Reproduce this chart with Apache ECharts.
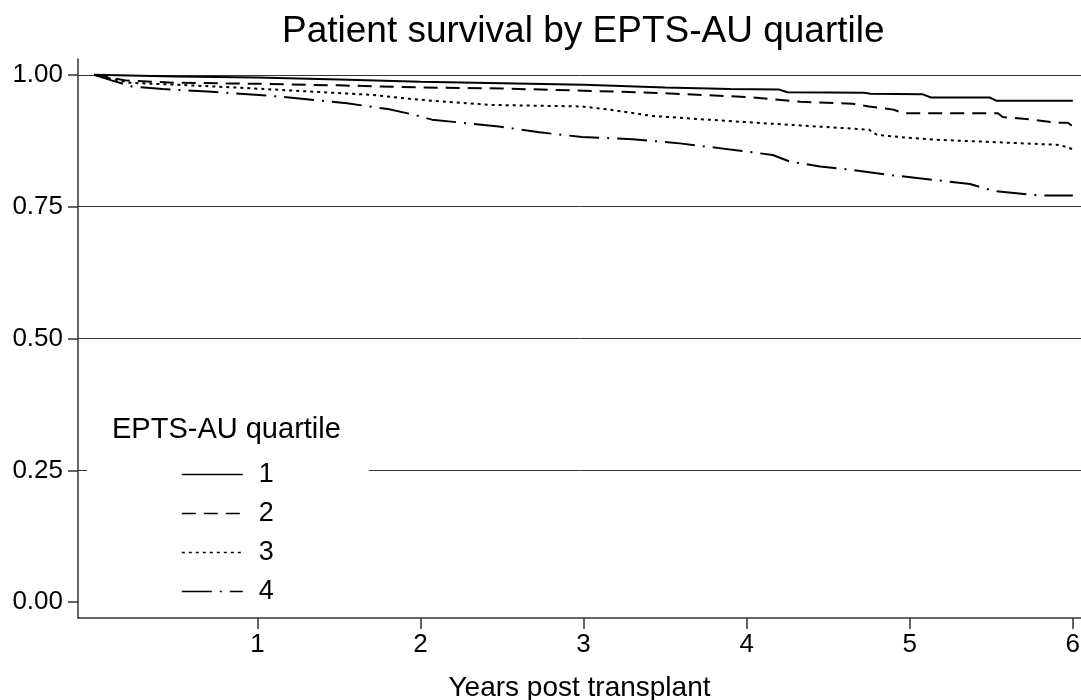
<!DOCTYPE html>
<html>
<head>
<meta charset="utf-8">
<title>Patient survival by EPTS-AU quartile</title>
<script src="https://cdn.jsdelivr.net/npm/echarts@6/dist/echarts.min.js"></script>
<style>
  html, body { margin: 0; padding: 0; background: #fff; }
  #chart { width: 1081px; height: 700px; }
</style>
</head>
<body>
<div id="chart"></div>
<script>
// Kaplan-Meier estimates: [years, survival]
const q1 = [[0, 1], [0.5, 0.997], [1, 0.995], [1.5, 0.991], [2, 0.987], [2.5, 0.984], [3, 0.981], [3.5, 0.976], [3.9, 0.973], [4.2, 0.972], [4.25, 0.967], [4.72, 0.966], [4.76, 0.964], [5.08, 0.963], [5.13, 0.957], [5.49, 0.957], [5.53, 0.951], [6.0, 0.951]]
const q2 = [[0, 1], [0.2, 0.989], [0.5, 0.985], [1, 0.983], [1.5, 0.98], [2, 0.976], [2.5, 0.974], [3, 0.97], [3.5, 0.965], [4, 0.958], [4.33, 0.949], [4.65, 0.945], [4.75, 0.94], [4.9, 0.934], [4.96, 0.927], [5.54, 0.927], [5.57, 0.92], [5.75, 0.915], [5.9, 0.909], [5.97, 0.909], [6.0, 0.902]]
const q3 = [[0, 1], [0.21, 0.985], [0.52, 0.981], [0.93, 0.975], [1.34, 0.968], [1.7, 0.962], [1.95, 0.954], [2.07, 0.951], [2.42, 0.943], [2.99, 0.94], [3.16, 0.934], [3.42, 0.922], [3.71, 0.916], [3.96, 0.911], [4.33, 0.904], [4.75, 0.896], [4.8, 0.886], [4.94, 0.882], [5.15, 0.877], [5.55, 0.872], [5.92, 0.867], [6.0, 0.859]]
const q4 = [[0, 1], [0.1, 0.99], [0.23, 0.978], [0.42, 0.973], [0.72, 0.968], [1.13, 0.959], [1.55, 0.946], [1.8, 0.935], [1.95, 0.925], [2.07, 0.915], [2.48, 0.902], [2.73, 0.891], [2.99, 0.882], [3.3, 0.878], [3.59, 0.87], [3.83, 0.861], [3.96, 0.856], [4.16, 0.848], [4.26, 0.836], [4.45, 0.826], [4.61, 0.821], [4.88, 0.81], [5.14, 0.801], [5.37, 0.793], [5.51, 0.78], [5.8, 0.771], [6.0, 0.771]]

const seriesNames = ['1', '2', '3', '4']
const xTicks = [1, 2, 3, 4, 5, 6]
const yTicks = [0, 0.25, 0.5, 0.75, 1]
const gridTicks = [0.25, 0.5, 0.75, 1]

const font = '"Liberation Sans", Arial, Helvetica, sans-serif'
const ink = '#000'
const axisColor = '#333'

const chart = echarts.init(document.getElementById('chart'))

// line patterns like the Stata defaults
const dashes = ['solid', [14, 8], [3, 4], [30, 8, 2, 8]]

const series = [q1, q2, q3, q4].map((data, i) => ({
  name: seriesNames[i],
  type: 'line',
  symbol: 'none',
  clip: false,
  data: data,
  lineStyle: { color: ink, width: 2, type: dashes[i] },
  itemStyle: { color: ink },
  emphasis: { disabled: true },
  // horizontal grid lines (none at 0, as in the original)
  markLine: i === 0 ? {
    silent: true,
    z: 1,
    symbol: 'none',
    label: { show: false },
    lineStyle: { color: axisColor, width: 1, type: 'solid' },
    data: gridTicks.map(v => ({ yAxis: v }))
  } : undefined
}))

const option = {
  animation: false,
  backgroundColor: '#fff',
  textStyle: { fontFamily: font },
  title: [
    {
      text: 'Patient survival by EPTS-AU quartile',
      left: 282,
      top: 13,
      padding: 0,
      textStyle: { fontFamily: font, fontSize: 37, fontWeight: 'normal', color: ink }
    },
    {
      text: 'EPTS-AU quartile',
      left: 112,
      top: 415,
      padding: 0,
      z: 12,
      textStyle: { fontFamily: font, fontSize: 29, fontWeight: 'normal', color: ink }
    }
  ],
  legend: {
    data: seriesNames,
    orient: 'vertical',
    left: 87,
    top: 409,
    padding: [52, 95, 2, 94],
    backgroundColor: '#fff',
    itemWidth: 61,
    itemHeight: 26,
    itemGap: 12,
    selectedMode: false,
    z: 10,
    itemStyle: { color: 'transparent', borderWidth: 0, opacity: 0 },
    lineStyle: { width: 1.6 },
    textStyle: { fontFamily: font, fontSize: 27, color: ink, lineHeight: 26, padding: [0, 0, 0, 11] }
  },
  grid: { left: 78, right: 0, top: 59, bottom: 82, containLabel: false, outerBoundsMode: 'none' },
  xAxis: {
    type: 'value',
    min: -0.1,
    max: 6.05,
    name: 'Years post transplant',
    nameLocation: 'middle',
    nameGap: 56,
    nameTextStyle: { fontFamily: font, fontSize: 28, color: ink },
    axisLine: { show: true, onZero: false, lineStyle: { color: axisColor, width: 1.5 } },
    axisTick: { show: true, length: 11, customValues: xTicks, lineStyle: { color: axisColor, width: 1.5 } },
    axisLabel: { customValues: xTicks, margin: 14, fontFamily: font, fontSize: 26, color: ink },
    splitLine: { show: false }
  },
  yAxis: {
    type: 'value',
    min: -0.03,
    max: 1.03,
    axisLine: { show: true, onZero: false, lineStyle: { color: axisColor, width: 1.5 } },
    axisTick: { show: true, length: 10, customValues: yTicks, lineStyle: { color: axisColor, width: 1.5 } },
    axisLabel: {
      customValues: yTicks,
      margin: 15,
      fontFamily: font,
      fontSize: 26,
      color: ink,
      formatter: v => v.toFixed(2)
    },
    splitLine: { show: false }
  },
  series: series
}

chart.setOption(option)
</script>
</body>
</html>
